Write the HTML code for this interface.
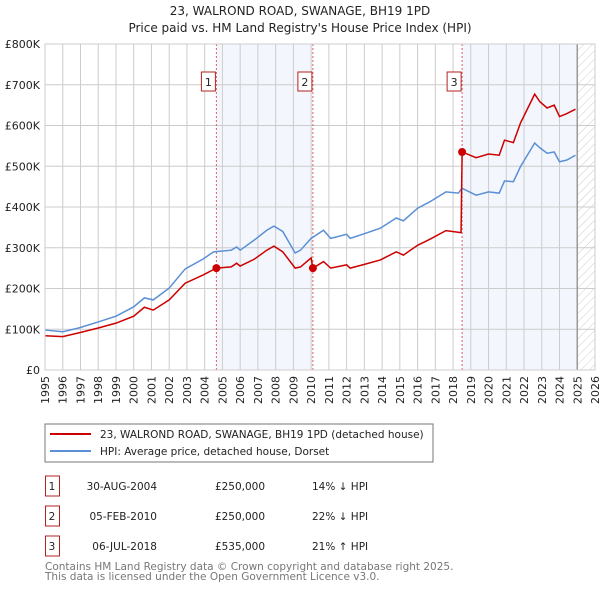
<!DOCTYPE html>
<html><head><meta charset="utf-8"><style>
body{margin:0;background:#fff;font-family:"DejaVu Sans","Liberation Sans",sans-serif;}
svg text{font-family:"DejaVu Sans","Liberation Sans",sans-serif;}
</style></head><body>
<svg id="c" width="600" height="590" xmlns="http://www.w3.org/2000/svg">
<defs><pattern id="hatch" width="6" height="6" patternUnits="userSpaceOnUse" patternTransform="rotate(45)"><line x1="0" y1="0" x2="0" y2="6" stroke="#ccc" stroke-width="1"/></pattern></defs>
<text x="300" y="15" text-anchor="middle" font-size="12" fill="#222">23, WALROND ROAD, SWANAGE, BH19 1PD</text>
<text x="300" y="32" text-anchor="middle" font-size="12" fill="#222">Price paid vs. HM Land Registry's House Price Index (HPI)</text>
<g id="plot"></g>
<rect x="45" y="424" width="388" height="38" fill="#fff" stroke="#777"/>
<line x1="50" y1="434" x2="91" y2="434" stroke="#cc0000" stroke-width="2"/>
<text x="100" y="438" font-size="10.5" fill="#222">23, WALROND ROAD, SWANAGE, BH19 1PD (detached house)</text>
<line x1="50" y1="451" x2="91" y2="451" stroke="#5b8fd6" stroke-width="2"/>
<text x="100" y="455" font-size="10.5" fill="#222">HPI: Average price, detached house, Dorset</text>
<g id="table"></g>
<text x="45" y="570" font-size="10.5" fill="#777">Contains HM Land Registry data © Crown copyright and database right 2025.</text>
<text x="45" y="580" font-size="10.5" fill="#777">This data is licensed under the Open Government Licence v3.0.</text>
</svg>
<script>
const hpiYears=[1995.0,1996.0,1996.9,1998.0,1999.0,2000.0,2000.6,2001.1,2002.0,2002.9,2003.9,2004.5,2005.5,2005.8,2006.0,2006.8,2007.5,2007.9,2008.4,2009.1,2009.4,2010.0,2010.7,2011.1,2012.0,2012.2,2012.9,2013.9,2014.8,2015.2,2016.0,2016.7,2017.6,2018.3,2018.5,2019.3,2020.0,2020.6,2020.9,2021.4,2021.8,2022.6,2022.9,2023.3,2023.7,2024.0,2024.4,2024.9];
const hpiValues=[98,94,103,118,132,155,177,172,201,248,272,290,294,302,294,319,343,353,340,287,294,323,343,323,333,323,333,348,373,366,397,413,437,434,446,429,437,434,464,462,499,557,545,532,535,511,515,527];
const priceYears=[1995.0,1996.0,1996.9,1998.0,1999.0,2000.0,2000.6,2001.1,2002.0,2002.9,2003.9,2004.66,2005.5,2005.8,2006.0,2006.8,2007.5,2007.9,2008.4,2009.1,2009.4,2010.0,2010.1,2010.7,2011.1,2012.0,2012.2,2012.9,2013.9,2014.8,2015.2,2016.0,2016.7,2017.6,2018.45,2018.51,2019.3,2020.0,2020.6,2020.9,2021.4,2021.8,2022.6,2022.9,2023.3,2023.7,2024.0,2024.4,2024.9];
const priceValues=[84,82,91,103,115,132,154,147,172,213,233,250,253,262,255,272,294,304,290,250,253,275,250,266,250,258,250,258,270,290,282,306,321,342,337,535,521,530,527,564,558,606,677,658,643,650,622,629,640];
const saleYears=[2004.66,2010.1,2018.51];
const salePrices=[250,250,535];
const saleLabels=["1","2","3"];
const saleDates=["30-AUG-2004","05-FEB-2010","06-JUL-2018"];
const salePriceText=["£250,000","£250,000","£535,000"];
const saleHpiText=["14% ↓ HPI","22% ↓ HPI","21% ↑ HPI"];
const yTicks=[0,100,200,300,400,500,600,700,800];
const yTickLabels=["£0","£100K","£200K","£300K","£400K","£500K","£600K","£700K","£800K"];
const xTicks=[1995,1996,1997,1998,1999,2000,2001,2002,2003,2004,2005,2006,2007,2008,2009,2010,2011,2012,2013,2014,2015,2016,2017,2018,2019,2020,2021,2022,2023,2024,2025,2026];

const NS="http://www.w3.org/2000/svg";
const X0=45,X1=595,Y0=370,Y1=44,YMIN=1995,YMAX=2026,VMAX=800;
const xs=v=>X0+(v-YMIN)/(YMAX-YMIN)*(X1-X0);
const ys=v=>Y0-v/VMAX*(Y0-Y1);
const plot=document.getElementById('plot');
function mk(tag,attrs,parent){const e=document.createElementNS(NS,tag);for(const k in attrs)e.setAttribute(k,attrs[k]);(parent||plot).appendChild(e);return e;}

let e;
e=mk('rect',{x:xs(saleYears[0]),y:Y1,width:xs(saleYears[1])-xs(saleYears[0]),height:Y0-Y1,fill:'#eef3fc',opacity:0.7});


e=mk('rect',{x:xs(saleYears[2]),y:Y1,width:xs(2025.0)-xs(saleYears[2]),height:Y0-Y1,fill:'#eef3fc',opacity:0.7});


e=mk('rect',{x:xs(2025.0),y:Y1,width:X1-xs(2025.0),height:Y0-Y1,fill:'url(#hatch)'});



xTicks.forEach((t,i)=>{
  const g=mk('line',{x1:xs(t),x2:xs(t),y1:Y1,y2:Y0,stroke:'#ccc','stroke-width':1});
  
  
  const px=xs(t)+4,py=376;
  const tx=mk('text',{x:px,y:py,'text-anchor':'end','font-size':11,fill:'#222',transform:'rotate(-90 '+px+' '+py+')'});
  tx.textContent=t;
  
  
});
yTicks.forEach((t,i)=>{
  const g=mk('line',{x1:X0,x2:X1,y1:ys(t),y2:ys(t),stroke:'#ccc','stroke-width':1});
  
  
  const tx=mk('text',{x:40,y:ys(t)+4,'text-anchor':'end','font-size':11,fill:'#222'});
  tx.textContent=yTickLabels[i];
  
  
});
e=mk('line',{x1:xs(2025.0),x2:xs(2025.0),y1:Y1,y2:Y0,stroke:'#999','stroke-width':1.5});



saleYears.forEach((s,i)=>{
  const l=mk('line',{x1:xs(s),x2:xs(s),y1:Y1,y2:Y0,stroke:'#e06060','stroke-width':1,'stroke-dasharray':'2,2'});
  
  
  const b=mk('rect',{x:xs(s)-15,y:72,width:14,height:19,fill:'#fff',stroke:'#b22222'});
  
  
  const t=mk('text',{x:xs(s)-8,y:86,'text-anchor':'middle','font-size':11,fill:'#222'});
  t.textContent=saleLabels[i];
  
  
});

const hp=mk('polyline',{points:hpiYears.map((y,i)=>xs(y)+','+ys(hpiValues[i])).join(' '),fill:'none',stroke:'#5b8fd6','stroke-width':1.5});


const pp=mk('polyline',{points:priceYears.map((y,i)=>xs(y)+','+ys(priceValues[i])).join(' '),fill:'none',stroke:'#cc0000','stroke-width':1.5});


saleYears.forEach((s,i)=>{
  const c=mk('circle',{cx:xs(s),cy:ys(salePrices[i]),r:4,fill:'#cc0000'});
  
  
});
e=mk('rect',{x:X0,y:Y1,width:X1-X0,height:Y0-Y1,fill:'none',stroke:'#ccc'});



const tb=document.getElementById('table');
saleYears.forEach((s,i)=>{
  const yy=484+i*30;
  const b=mk('rect',{x:45.5,y:yy-8,width:14,height:20,fill:'#fff',stroke:'#b22222'},tb);
  
  
  const cells=[[52,'middle',saleLabels[i],'table-index'],[157,'end',saleDates[i],'table-date'],[240,'middle',salePriceText[i],'table-price'],[312,'start',saleHpiText[i],'table-hpi-diff']];
  cells.forEach(c=>{
    const t=mk('text',{x:c[0],y:yy+6,'text-anchor':c[1],'font-size':10.5,fill:'#222'},tb);
    t.textContent=c[2];
    
    
  });
});
</script>
</body></html>
